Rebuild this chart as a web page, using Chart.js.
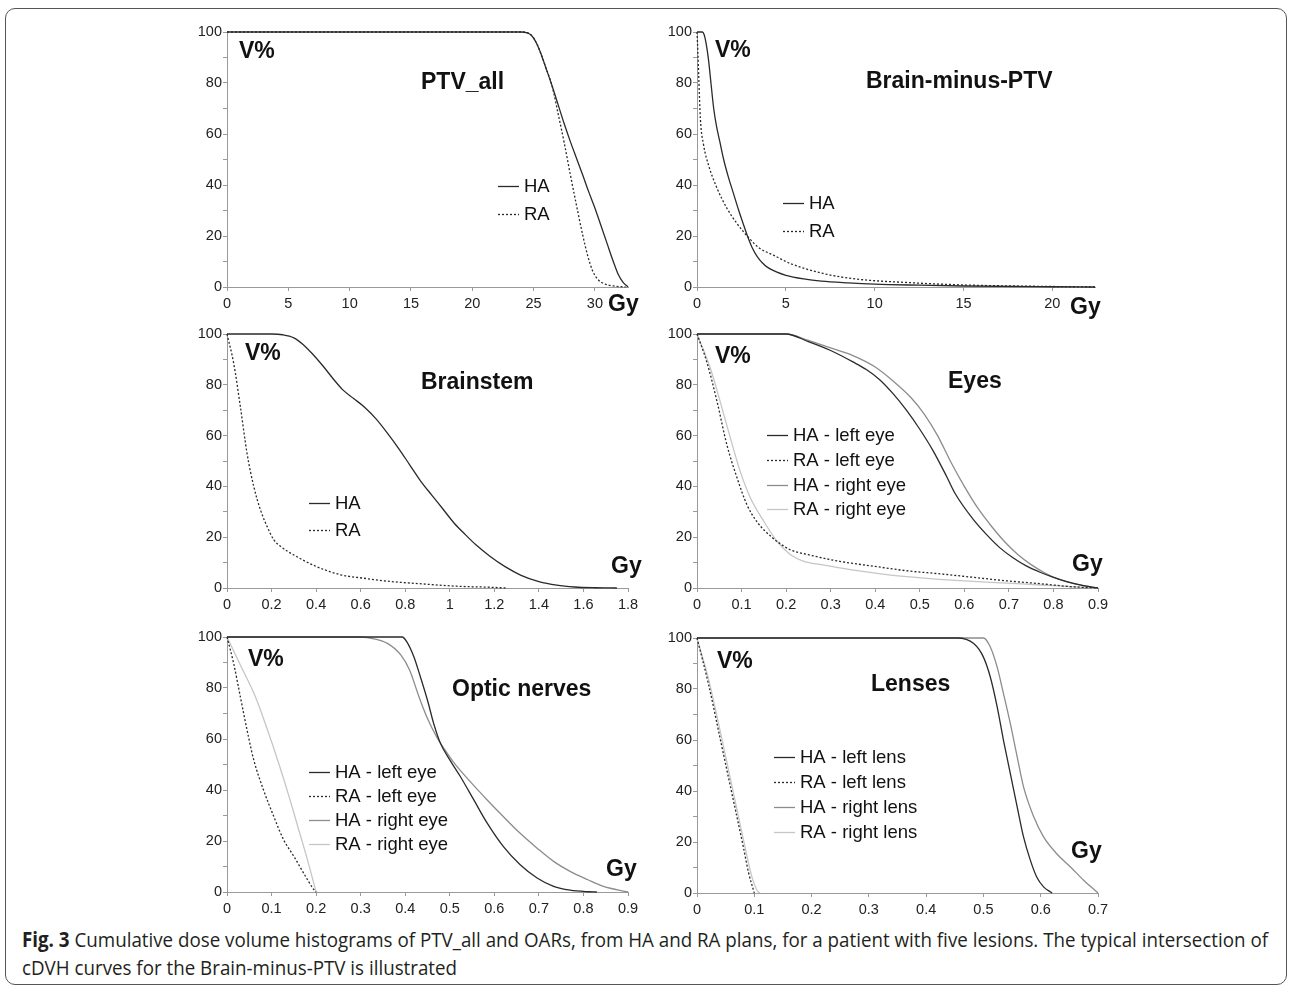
<!DOCTYPE html>
<html>
<head>
<meta charset="utf-8">
<script src="https://cdn.jsdelivr.net/npm/chart.js@4.4.0/dist/chart.umd.min.js"></script>
<style>
  body { margin: 0; background: #fff; width: 1292px; height: 989px; position: relative; overflow: hidden; }
  .frame { position: absolute; left: 5px; top: 8px; width: 1280px; height: 975px; border: 1px solid #555; border-radius: 10px; }
  canvas { position: absolute; }
  .caption { position: absolute; left: 22px; top: 925px; font-family: "Open Sans", "Liberation Sans", sans-serif; font-size: 20.5px; line-height: 28px; color: #231f20; white-space: nowrap; transform-origin: 0 0; }
</style>
</head>
<body>
<div class="frame"></div>
<div class="caption" id="caption">
  <div id="capLine1"><b>Fig. 3</b> Cumulative dose volume histograms of PTV_all and OARs, from HA and RA plans, for a patient with five lesions. The typical intersection of</div>
  <div>cDVH curves for the Brain-minus-PTV is illustrated</div>
</div>
<script>
// dose (Gy), volume (%) pairs
const ptvHA = [[0,100],[24,100],[24.4,99.8],[24.8,98.8],[25.2,96],[25.6,91.5],[26,86],[26.5,79],[27,71.5],[27.5,64],[28,57],[28.5,50.5],[29,44],[29.5,37.3],[30,31],[30.5,24],[31,17],[31.5,10],[31.9,5],[32.3,1.8],[32.7,0]];
const ptvRA = [[0,100],[24,100],[24.4,99.8],[24.8,98.8],[25.2,96],[25.6,91.5],[26,86],[26.5,79],[27,68],[27.5,56.5],[28,44],[28.5,32],[29,20.5],[29.4,12.5],[29.8,6.5],[30.2,3.2],[30.8,1.2],[31.5,0.4],[32.5,0]];

const brainHA = [[0,100],[0.3,100],[0.4,99],[0.5,96],[0.65,89],[0.8,79],[0.94,70],[1.1,63],[1.3,56.5],[1.5,50],[1.75,43.5],[2.06,36.5],[2.35,30],[2.63,24.2],[2.85,19.8],[3.1,15.5],[3.4,11.8],[3.7,9.3],[3.95,7.8],[4.5,5.8],[5,4.6],[6,3.2],[7,2.3],[8.5,1.6],[10,1.1],[12.5,0.7],[15,0.4],[20,0.1],[22.4,0]];
const brainRA = [[0,100],[0.05,92],[0.1,82],[0.19,66],[0.37,55.7],[0.65,47.8],[1.13,38.7],[1.69,30.8],[2.25,24.9],[2.85,19.8],[3.5,15.3],[4.3,12.5],[5.26,9.2],[7.1,5.3],[9,3.1],[12,1.7],[15,0.8],[20,0.2],[22.4,0]];

const stemHA = [[0,100],[0.2,100],[0.25,99.7],[0.3,98.5],[0.34,96],[0.38,92.5],[0.43,87.5],[0.48,82],[0.52,78],[0.57,74.5],[0.62,71],[0.67,66.5],[0.72,61],[0.77,55],[0.82,48.5],[0.87,42],[0.92,36.5],[0.97,31],[1.02,25.5],[1.07,21],[1.12,16.8],[1.18,12.5],[1.25,8.3],[1.32,5],[1.4,2.5],[1.48,1.1],[1.56,0.4],[1.65,0.1],[1.75,0]];
const stemRA = [[0,100],[0.03,88.5],[0.06,71.4],[0.09,53],[0.12,40],[0.15,30.8],[0.18,24.2],[0.21,19],[0.24,16.4],[0.31,12.5],[0.4,8.5],[0.51,5.2],[0.61,3.9],[0.73,2.6],[0.88,1.6],[1.03,0.7],[1.18,0.3],[1.25,0]];

const eyeHALeft = [[0,100],[0.2,100],[0.25,97],[0.3,93.5],[0.35,89],[0.38,86],[0.41,82],[0.44,76.5],[0.47,70],[0.5,62.5],[0.53,54],[0.56,44],[0.58,37],[0.62,27],[0.65,21],[0.68,15.8],[0.71,11.8],[0.74,8.6],[0.77,6.2],[0.8,4.2],[0.83,2.5],[0.86,1.2],[0.9,0]];
const eyeRALeft = [[0,100],[0.022,89],[0.045,73.4],[0.067,56.4],[0.09,43.3],[0.112,32.8],[0.134,26.2],[0.17,19.7],[0.21,15],[0.25,13.1],[0.32,10.5],[0.4,8.5],[0.47,6.8],[0.55,5.5],[0.62,4.2],[0.69,2.9],[0.77,1.7],[0.81,1],[0.84,0.5],[0.9,0]];
const eyeHARight = [[0,100],[0.2,100],[0.25,97.5],[0.3,94.5],[0.35,91.5],[0.4,87],[0.44,81.5],[0.48,75],[0.51,68.5],[0.54,60],[0.57,49.5],[0.6,40],[0.63,31.5],[0.66,24.5],[0.69,18.3],[0.72,13.2],[0.75,9.2],[0.78,6],[0.81,3.6],[0.85,1.5],[0.9,0]];
const eyeRARight = [[0,100],[0.03,86.5],[0.052,73.4],[0.075,59],[0.097,45.9],[0.12,35.4],[0.15,26.2],[0.18,18.3],[0.21,13.1],[0.24,10.5],[0.28,9.2],[0.36,6.8],[0.43,5.2],[0.51,3.9],[0.58,3],[0.66,2.2],[0.73,1.6],[0.81,0.8],[0.9,0]];

const nerveHALeft = [[0,100],[0.393,100],[0.404,98],[0.42,92],[0.434,84.4],[0.45,75.2],[0.464,66],[0.479,58.3],[0.5,51.8],[0.524,45.2],[0.554,36.1],[0.584,27],[0.62,17.9],[0.658,10.7],[0.696,5.5],[0.733,2.2],[0.77,0.7],[0.81,0.1],[0.83,0]];
const nerveRALeft = [[0,100],[0.015,89.6],[0.03,76.5],[0.045,63.5],[0.06,51.8],[0.082,40],[0.105,29.6],[0.127,20.5],[0.15,14],[0.172,7.4],[0.195,0.9],[0.2,0]];
const nerveHARight = [[0,100],[0.3,100],[0.33,99.3],[0.36,97.5],[0.39,93],[0.41,87],[0.43,77],[0.45,68],[0.47,61],[0.49,55.5],[0.51,50.5],[0.55,42.5],[0.584,36.1],[0.62,29.6],[0.658,23],[0.696,17.2],[0.733,12],[0.77,8.1],[0.81,4.8],[0.845,2.2],[0.9,0]];
const nerveRARight = [[0,100],[0.03,89],[0.064,76.5],[0.09,64],[0.116,50.5],[0.14,37],[0.161,24.4],[0.18,13],[0.2,0]];

const lensHALeft = [[0,100],[0.454,100],[0.483,97.8],[0.5,92.5],[0.512,84.7],[0.524,73],[0.535,59.9],[0.547,46.8],[0.559,33.7],[0.57,22],[0.582,12.8],[0.593,6.3],[0.605,2.4],[0.617,0.4],[0.62,0]];
const lensRALeft = [[0,100],[0.02,82],[0.04,61],[0.06,40],[0.08,19],[0.09,8],[0.1,0]];
const lensHARight = [[0,100],[0.5,100],[0.512,96.5],[0.524,88.6],[0.535,78.2],[0.547,66.4],[0.559,53.3],[0.57,41.6],[0.588,29.8],[0.605,22],[0.628,15.4],[0.652,10.2],[0.675,5],[0.7,0]];
const lensRARight = [[0,100],[0.02,84],[0.04,64],[0.06,43],[0.08,22],[0.095,7],[0.105,1],[0.11,0]];

// axis ticks
const vTicks = [0,10,20,30,40,50,60,70,80,90,100];
const vLabels = [0,20,40,60,80,100];
const ptvTicks = [0,5,10,15,20,25,30];
const brainTicks = [0,5,10,15,20];
const stemTicks = [0,0.2,0.4,0.6,0.8,1,1.2,1.4,1.6,1.8];
const tenthTicks9 = [0,0.1,0.2,0.3,0.4,0.5,0.6,0.7,0.8,0.9];
const tenthTicks7 = [0,0.1,0.2,0.3,0.4,0.5,0.6,0.7];

const FONT = '"Liberation Sans", Arial, sans-serif';
const DARK = '#2a2a2a', MID = '#8c8c8c', LIGHT = '#c6c6c6', AXIS = '#9a9a9a';

function line(label, pts, color, dotted) {
  return {
    label: label,
    data: pts.map(p => ({ x: p[0], y: p[1] })),
    borderColor: color,
    borderWidth: 1.3,
    borderDash: dotted ? [2, 2] : [],
    pointRadius: 0,
    cubicInterpolationMode: 'monotone',
    clip: false
  };
}

// text drawn inside each panel: V%, panel title, Gy and the legend
const panelText = {
  id: 'panelText',
  afterDraw(chart, args, o) {
    const ctx = chart.ctx, a = chart.chartArea;
    ctx.save();
    ctx.fillStyle = '#111';
    ctx.textBaseline = 'middle';
    ctx.textAlign = 'left';
    ctx.font = 'bold 23px ' + FONT;
    ctx.fillText('V%', a.left + o.v[0], a.top + o.v[1]);
    ctx.fillText(o.title, a.left + o.t[0], a.top + o.t[1]);
    ctx.fillText('Gy', a.left + o.gy[0], a.top + o.gy[1]);
    ctx.font = '18.5px ' + FONT;
    chart.data.datasets.forEach((ds, i) => {
      const x = a.left + o.leg[0];
      const y = Math.round(a.top + o.leg[1] + i * o.leg[2]) + 0.5;
      ctx.beginPath();
      ctx.strokeStyle = ds.borderColor;
      ctx.lineWidth = ds.borderWidth;
      ctx.setLineDash(ds.borderDash);
      ctx.moveTo(x, y);
      ctx.lineTo(x + 21, y);
      ctx.stroke();
      ctx.setLineDash([]);
      ctx.fillText(ds.label, x + 26, y);
    });
    ctx.restore();
  }
};

const panels = [
  { plot: [227, 32, 628, 287], xMax: 32.7, xTicks: ptvTicks, title: 'PTV_all',
    v: [12, 20], t: [194, 51], gy: [381, 273], leg: [271, 154, 28.3],
    datasets: [line('HA', ptvHA, DARK), line('RA', ptvRA, DARK, true)] },
  { plot: [697, 32, 1095, 287], xMax: 22.4, xTicks: brainTicks, title: 'Brain-minus-PTV',
    v: [18, 19], t: [169, 50], gy: [373, 276], leg: [86, 171, 28],
    datasets: [line('HA', brainHA, DARK), line('RA', brainRA, DARK, true)] },
  { plot: [227, 334, 628, 588], xMax: 1.8, xTicks: stemTicks, title: 'Brainstem',
    v: [18, 20], t: [194, 49], gy: [384, 233], leg: [82, 169, 27.3],
    datasets: [line('HA', stemHA, DARK), line('RA', stemRA, DARK, true)] },
  { plot: [697, 334, 1098, 588], xMax: 0.9, xTicks: tenthTicks9, title: 'Eyes',
    v: [18, 23], t: [251, 48], gy: [375, 231], leg: [70, 101, 24.8],
    datasets: [line('HA - left eye', eyeHALeft, DARK), line('RA - left eye', eyeRALeft, DARK, true),
               line('HA - right eye', eyeHARight, MID), line('RA - right eye', eyeRARight, LIGHT)] },
  { plot: [227, 637, 628, 892], xMax: 0.9, xTicks: tenthTicks9, title: 'Optic nerves',
    v: [21, 23], t: [225, 53], gy: [379, 233], leg: [82, 135, 23.9],
    datasets: [line('HA - left eye', nerveHALeft, DARK), line('RA - left eye', nerveRALeft, DARK, true),
               line('HA - right eye', nerveHARight, MID), line('RA - right eye', nerveRARight, LIGHT)] },
  { plot: [697, 638, 1098, 893], xMax: 0.7, xTicks: tenthTicks7, title: 'Lenses',
    v: [20, 24], t: [174, 47], gy: [374, 214], leg: [77, 119, 25],
    datasets: [line('HA - left lens', lensHALeft, DARK), line('RA - left lens', lensRALeft, DARK, true),
               line('HA - right lens', lensHARight, MID), line('RA - right lens', lensRARight, LIGHT)] }
];

const PAD_L = 45, PAD_T = 12, PAD_R = 45, PAD_B = 36;

panels.forEach(p => {
  const [L, T, R, B] = p.plot;
  const cv = document.createElement('canvas');
  cv.width = R - L + PAD_L + PAD_R;
  cv.height = B - T + PAD_T + PAD_B;
  cv.style.left = (L - PAD_L) + 'px';
  cv.style.top = (T - PAD_T) + 'px';
  cv.style.width = cv.width + 'px';
  cv.style.height = cv.height + 'px';
  document.body.appendChild(cv);

  new Chart(cv.getContext('2d'), {
    type: 'line',
    data: { datasets: p.datasets },
    plugins: [panelText],
    options: {
      responsive: false,
      animation: false,
      layout: { padding: { top: PAD_T, right: PAD_R, left: 0, bottom: 0 } },
      plugins: {
        legend: { display: false },
        tooltip: { enabled: false },
        panelText: { title: p.title, v: p.v, t: p.t, gy: p.gy, leg: p.leg }
      },
      scales: {
        x: {
          type: 'linear', min: 0, max: p.xMax,
          afterFit: s => { s.height = PAD_B; },
          afterBuildTicks: s => { s.ticks = p.xTicks.map(v => ({ value: v })); },
          ticks: { callback: v => String(+v.toFixed(2)), maxRotation: 0, autoSkip: false, padding: 4,
                   color: '#222', font: { family: FONT, size: 14.5 } },
          grid: { drawOnChartArea: false, tickLength: 4, color: AXIS },
          border: { color: AXIS }
        },
        y: {
          min: 0, max: 100,
          afterFit: s => { s.width = PAD_L; },
          afterBuildTicks: s => { s.ticks = vTicks.map(v => ({ value: v })); },
          ticks: { callback: v => vLabels.includes(v) ? String(v) : '', autoSkip: false, padding: 1,
                   color: '#222', font: { family: FONT, size: 14.5 } },
          grid: { drawOnChartArea: false, tickLength: 4, color: AXIS },
          border: { color: AXIS }
        }
      }
    }
  });
});

// fit the caption's first line to the figure width
const cap = document.getElementById('caption');
const w = document.getElementById('capLine1').getBoundingClientRect().width;
cap.style.transform = 'scaleX(' + (1246 / w) + ')';
</script>
</body>
</html>
